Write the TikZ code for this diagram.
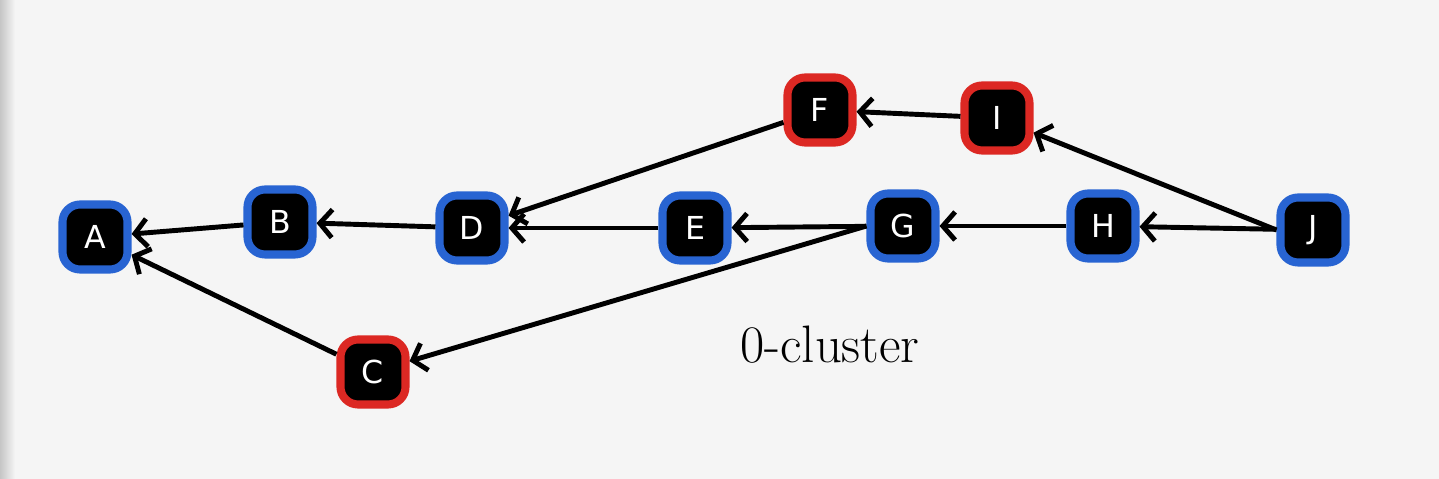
\documentclass[tikz,border=0pt]{standalone}
\usepackage{fontspec}
\setsansfont{DejaVu Sans}
\usetikzlibrary{arrows.meta}
\definecolor{nblue}{RGB}{40,100,210}
\definecolor{nred}{RGB}{220,40,35}
\begin{document}
\begin{tikzpicture}[main/.style = {draw, line width=2.3pt, fill=black, text=white, rounded corners=5pt, minimum size=1.95cm/3, font=\sffamily\small, inner sep=0pt},
  blue/.style = {main, draw=nblue}, red/.style = {main, draw=nred},
  edge/.style = {line width=1.4pt, -{Straight Barb[length=3.5pt,width=8pt,line width=1.4pt]}}]

            \fill[left color=gray!45, right color=gray!8, middle color=gray!8, shading angle=90] (0,0) rectangle (0.3,4.79);
            \fill[gray!8] (0.3,0) rectangle (14.39,4.79);
            \useasboundingbox (0,0) rectangle (14.39,4.79);

            % Nodes
            \node[blue] (A) at (0.95,2.42) {A};
            \node[blue] (B) at (2.80,2.57) {B};
            \node[blue] (D) at (4.72,2.51) {D};
            \node[blue] (E) at (6.95,2.51) {E};
            \node[blue] (G) at (9.03,2.53) {G};
            \node[blue] (H) at (11.03,2.53) {H};
            \node[blue] (J) at (13.13,2.49) {J};
            \node[red] (F) at (8.20,3.69) {F};
            \node[red] (I) at (9.97,3.61) {I};
            \node[red] (C) at (3.73,1.07) {C};

            \node (L) at (8.30,1.34) {\fontsize{15}{17}\selectfont 0-cluster};

            % Edges
            \draw[edge] (B) to (A);
            \draw[edge] (D) to (B);
            \draw[edge] (E) to (D);
            \draw[edge] (G) to (E);
            \draw[edge] (H) to (G);
            \draw[edge] (J) to (H);
            \draw[edge] (J.west) to (I);
            \draw[edge] (I) to (F);
            \draw[edge] (F) to (D);
            \draw[edge] (G.west) to (C);
            \draw[edge] (C) to (A);
        \end{tikzpicture}
\end{document}
